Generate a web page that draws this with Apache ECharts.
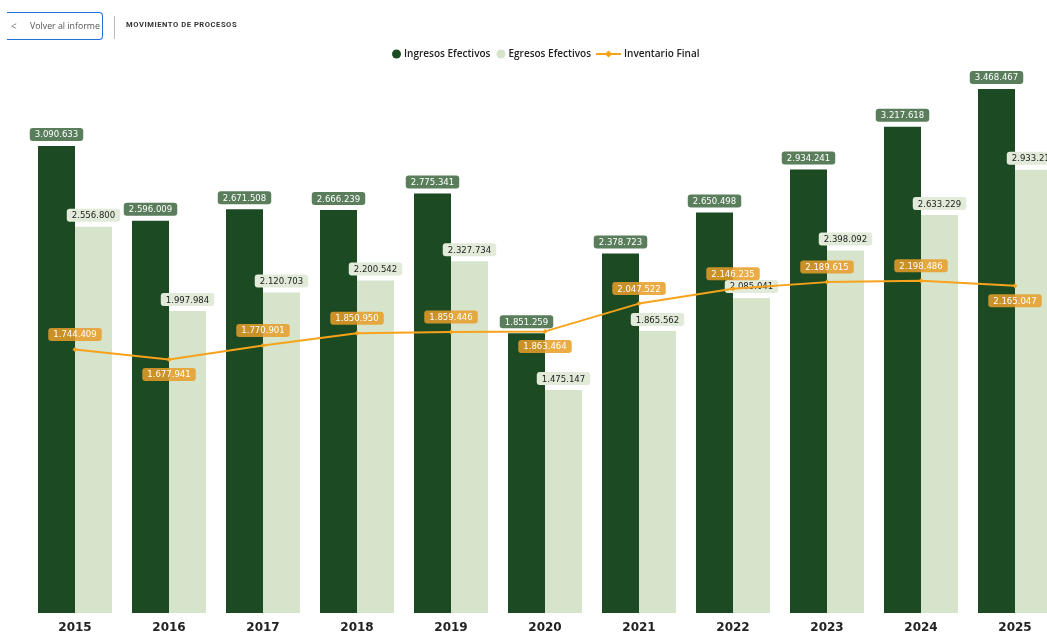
<!DOCTYPE html>
<html>
<head>
<meta charset="utf-8">
<script src="https://cdn.jsdelivr.net/npm/echarts@6/dist/echarts.min.js"></script>
<style>
  html,body{margin:0;padding:0;background:#fff;overflow:hidden;}
  #wrap{position:relative;width:1047px;height:632px;}
  #chart{position:absolute;left:0;top:0;width:1047px;height:632px;}
  #btn{position:absolute;left:7px;top:12px;width:96px;height:28px;border:1.5px solid #1e6fd9;border-left:none;border-radius:0 4px 4px 0;box-sizing:border-box;font-family:"Open Sans",sans-serif;font-size:8.8px;color:#555;line-height:26px;white-space:nowrap;}
  #btn .chev{position:absolute;left:4px;top:0;color:#777;font-size:10px;}
  #btn .txt{position:absolute;left:23px;top:0;}
  #sep{position:absolute;left:114px;top:16px;width:1px;height:23px;background:#bbb;}
  #title{position:absolute;left:126px;top:20px;font-family:Roboto,sans-serif;font-weight:bold;font-size:7.6px;letter-spacing:0.55px;color:#333;white-space:nowrap;}
</style>
</head>
<body>
<div id="wrap">
  <div id="chart"></div>
  <div id="btn"><span class="chev">&lt;</span><span class="txt">Volver al informe</span></div>
  <div id="sep"></div>
  <div id="title">MOVIMIENTO DE PROCESOS</div>
</div>
<script>
const categories = ['2015','2016','2017','2018','2019','2020','2021','2022','2023','2024','2025'];
const ingresos = [3090633, 2596009, 2671508, 2666239, 2775341, 1851259, 2378723, 2650498, 2934241, 3217618, 3468467];
const egresos = [2556800, 1997984, 2120703, 2200542, 2327734, 1475147, 1865562, 2085041, 2398092, 2633229, 2933210];
const inventario = [1744409, 1677941, 1770901, 1850950, 1859446, 1863464, 2047522, 2146235, 2189615, 2198486, 2165047];
const inventarioBelow = [1, 5, 10];

function fmt(v){ return String(Math.round(v)).replace(/\B(?=(\d{3})+(?!\d))/g, '.'); }

const labelFont = '"DejaVu Sans Condensed","DejaVu Sans",sans-serif';
const legendText = { fontFamily: '"Open Sans",sans-serif', fontSize: 10, color: '#222', fontWeight: 600, padding: [0, 0, 0, -2] };

const chart = echarts.init(document.getElementById('chart'));
chart.setOption({
  animation: false,
  legend: [
    {
      top: 44, left: 387, itemGap: 6, itemWidth: 9, itemHeight: 9,
      textStyle: legendText,
      data: [
        { name: 'Ingresos Efectivos', icon: 'circle' },
        { name: 'Egresos Efectivos', icon: 'circle' }
      ]
    },
    {
      top: 44, left: 590, itemWidth: 25, itemHeight: 9,
      textStyle: legendText,
      data: [{ name: 'Inventario Final', itemStyle: { color: '#f7a21b' } }]
    }
  ],
  grid: { left: 28, width: 1034, top: 69, bottom: 19, outerBoundsMode: 'none', containLabel: false },
  xAxis: {
    type: 'category', data: categories,
    axisLine: { show: false }, axisTick: { show: false },
    axisLabel: { fontFamily: '"DejaVu Sans",sans-serif', fontSize: 12, color: '#222', margin: 9, fontWeight: 'bold' }
  },
  yAxis: { type: 'value', min: 0, max: 3600000, show: false, splitLine: { show: false } },
  series: [
    {
      name: 'Ingresos Efectivos', type: 'bar', data: ingresos, barWidth: 37, barGap: '0%',
      itemStyle: { color: '#1c4b23' },
      label: {
        show: true, position: 'top', distance: 5, formatter: p => fmt(p.value),
        fontFamily: labelFont, fontSize: 9.5, color: '#fff',
        backgroundColor: '#5a7e5c', borderRadius: 3, padding: [2, 5, 1, 5]
      }
    },
    {
      name: 'Egresos Efectivos', type: 'bar', data: egresos, barWidth: 37,
      itemStyle: { color: '#d6e4cb' },
      label: {
        show: true, position: 'top', distance: 5, formatter: p => fmt(p.value),
        fontFamily: labelFont, fontSize: 9.5, color: '#222',
        backgroundColor: '#e2ebd9', borderRadius: 3, padding: [2, 5, 1, 5]
      }
    },
    {
      name: 'Inventario Final', type: 'line',
      data: inventario.map((v, i) => ({
        value: v,
        label: { position: inventarioBelow.includes(i) ? 'bottom' : 'top' }
      })),
      symbol: 'diamond', symbolSize: 5, showSymbol: true,
      lineStyle: { color: '#f7a21b', width: 2 },
      itemStyle: { color: '#f7a21b' },
      z: 5,
      label: {
        show: true, distance: 6, formatter: p => fmt(p.value),
        fontFamily: labelFont, fontSize: 9.5, color: '#fff',
        backgroundColor: 'rgba(232,158,40,0.85)', borderRadius: 3, padding: [2, 5, 1, 5]
      }
    }
  ]
});
</script>
</body>
</html>
